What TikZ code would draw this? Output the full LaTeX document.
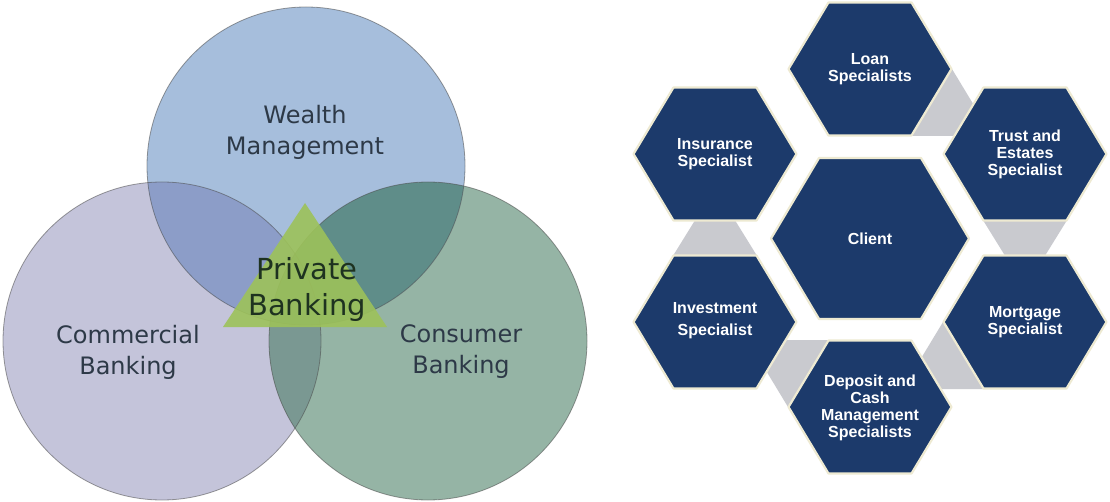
\documentclass[tikz,border=0pt]{standalone}
\usepackage{fontspec}
\setmainfont{Liberation Sans}
\newfontfamily\vennfont{DejaVu Sans}
\usetikzlibrary{calc}

% Venn palette
\definecolor{wealth}{HTML}{A6BEDC}
\definecolor{commercial}{HTML}{C4C4DA}
\definecolor{consumer}{HTML}{95B4A5}
\definecolor{wealthcomm}{HTML}{8C9DC8}
\definecolor{wealthcons}{HTML}{5F8D89}
\definecolor{commcons}{HTML}{7A9892}
\definecolor{allthree}{HTML}{5C7F86}
\definecolor{privgreen}{HTML}{9DC25A}
\definecolor{vennink}{HTML}{2D3947}
\definecolor{privink}{HTML}{1E3220}
% hexagon palette
\definecolor{navy}{HTML}{1C3A6B}
\definecolor{cream}{HTML}{EEEAD2}
\definecolor{linkgray}{HTML}{C9CACF}

\tikzset{
  pics/hexagon/.style args={#1/#2/#3}{code={%
    \path[hexcell] (-#1,0) -- (-#2,-#3) -- (#2,-#3) -- (#1,0)
                   -- (#2,#3) -- (-#2,#3) -- cycle;}},
}

\begin{document}
\begin{tikzpicture}[x=1pt,y=-1pt,
  venntext/.style={font=\vennfont\fontsize{24}{31}\selectfont, text=vennink,
                   align=center, inner sep=0pt},
  privtext/.style={font=\vennfont\fontsize{29}{36}\selectfont, text=privink,
                   align=center, inner sep=0pt},
  rim/.style={draw=black!70, draw opacity=0.55, line width=0.8pt},
  hexcell/.style={fill=navy, draw=cream, line width=2.2pt, line join=round},
  hexlabel/.style={font=\bfseries\fontsize{16}{17}\selectfont, text=white,
                   align=center, inner sep=0pt},
  link/.style={fill=linkgray}]

\useasboundingbox (0,0) rectangle (1110,502);
\fill[white] (0,0) rectangle (1110,502);

% ---------- three-circle Venn ----------
\coordinate (wm) at (306,166);
\coordinate (cb) at (162,341);
\coordinate (cs) at (428,341);

\fill[commercial] (cb) circle[radius=159pt];
\fill[consumer]   (cs) circle[radius=159pt];
\fill[wealth]     (wm) circle[radius=159pt];

\begin{scope}
  \clip (wm) circle[radius=159pt];
  \fill[wealthcomm] (cb) circle[radius=159pt];
  \fill[wealthcons] (cs) circle[radius=159pt];
\end{scope}
\begin{scope}
  \clip (cb) circle[radius=159pt];
  \fill[commcons] (cs) circle[radius=159pt];
  \clip (wm) circle[radius=159pt];
  \fill[allthree] (cs) circle[radius=159pt];
\end{scope}

\draw[rim] (cb) circle[radius=159pt];
\draw[rim] (cs) circle[radius=159pt];
\draw[rim] (wm) circle[radius=159pt];

% central triangle
\coordinate (apex) at (305,203);
\coordinate (baseR) at (387,327);
\coordinate (baseL) at (223,327);
\fill[privgreen, fill opacity=0.9] (apex) -- (baseR) -- (baseL) -- cycle;

\node[venntext] (wealthlbl) at (305,132) {Wealth\\Management};
\node[venntext] (commlbl)   at (128,352) {Commercial\\Banking};
\node[venntext] (conslbl)   at (461,352) {Consumer\\Banking};
\node[privtext] (privlbl)   at (307,289) {Private\\Banking};

% ---------- hexagon cluster ----------
\coordinate (loan)   at (870,69);
\coordinate (trust)  at (1025,154);
\coordinate (mort)   at (1025,322);
\coordinate (dep)    at (870,407);
\coordinate (inv)    at (715,322);
\coordinate (ins)    at (715,154);
\coordinate (client) at (870,238.5);

% grey links between neighbouring specialists
\fill[link] ($(loan)+(82,0)$) -- ($(loan)+(41.5,67)$) -- ($(loan)+(122.5,67)$) -- cycle;
\fill[link] ($(trust)+(-41.5,67)$) -- ($(trust)+(41.5,67)$) -- ($(trust)+(0,134)$) -- cycle;
\fill[link] ($(mort)+(-82,0)$) -- ($(mort)+(-41.5,67)$) -- ($(mort)+(-122.5,67)$) -- cycle;
\fill[link] ($(dep)+(-82,0)$) -- ($(dep)+(-41.5,-67)$) -- ($(dep)+(-122.5,-67)$) -- cycle;
\fill[link] ($(inv)+(-41.5,-67)$) -- ($(inv)+(41.5,-67)$) -- ($(inv)+(0,-134)$) -- cycle;

\pic at (loan)   {hexagon=81.5/41.5/66.5};
\pic at (trust)  {hexagon=81.5/41.5/66.5};
\pic at (mort)   {hexagon=81.5/41.5/66.5};
\pic at (dep)    {hexagon=81.5/41.5/66.5};
\pic at (inv)    {hexagon=81.5/41.5/66.5};
\pic at (ins)    {hexagon=81.5/41.5/66.5};
\pic at (client) {hexagon=99/51/80.5};

\node[hexlabel] (loanlbl)   at (870,69)     {Loan\\Specialists};
\node[hexlabel] (inslbl)    at (715,154.5)  {Insurance\\Specialist};
\node[hexlabel] (trustlbl)  at (1025,154)   {Trust and\\Estates\\Specialist};
\node[hexlabel] (clientlbl) at (870,238.5)  {Client};
\node[hexlabel, font=\bfseries\fontsize{16}{22}\selectfont]
                (invlbl)    at (715,321)    {Investment\\Specialist};
\node[hexlabel] (mortlbl)   at (1025,322)   {Mortgage\\Specialist};
\node[hexlabel] (deplbl)    at (870,407.5)  {Deposit and\\Cash\\Management\\Specialists};

\end{tikzpicture}
\end{document}
